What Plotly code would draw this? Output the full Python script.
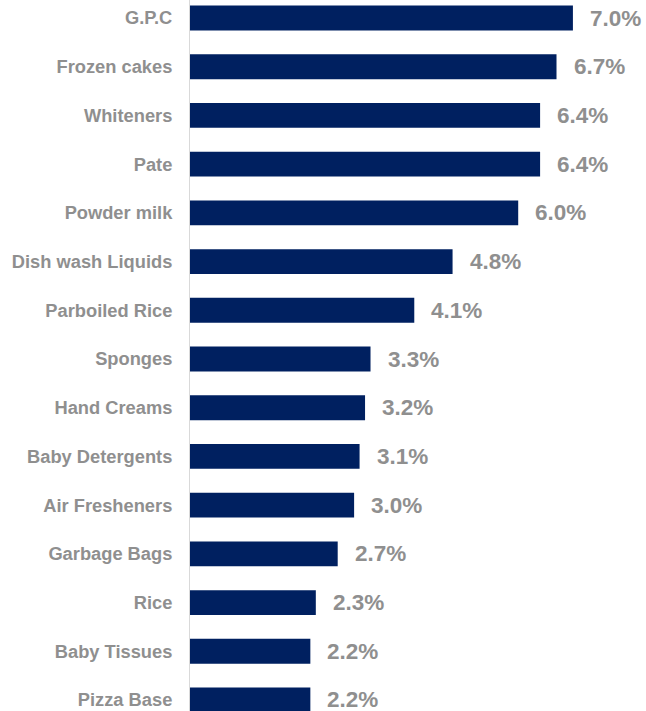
import plotly.graph_objects as go

categories = ["G.P.C", "Frozen cakes", "Whiteners", "Pate", "Powder milk",
              "Dish wash Liquids", "Parboiled Rice", "Sponges", "Hand Creams",
              "Baby Detergents", "Air Fresheners", "Garbage Bags", "Rice",
              "Baby Tissues", "Pizza Base"]
values = [7.0, 6.7, 6.4, 6.4, 6.0, 4.8, 4.1, 3.3, 3.2, 3.1, 3.0, 2.7, 2.3, 2.2, 2.2]

BAR = "#002060"
GRAY = "#8f8f8f"
FONT = "Arial, Liberation Sans, sans-serif"

fig = go.Figure(go.Bar(
    x=values, y=categories, orientation="h",
    marker=dict(color=BAR, line=dict(width=0)),
    hoverinfo="skip",
))

for c, v in zip(categories, values):
    fig.add_annotation(x=v, y=c, text=f"<b>{v:.1f}%</b>", showarrow=False,
                       xanchor="left", yanchor="middle", xshift=15,
                       font=dict(family=FONT, size=22.5, color=GRAY))

fig.update_layout(
    width=646, height=711,
    margin=dict(l=190, r=0, t=0, b=0),
    paper_bgcolor="white", plot_bgcolor="white",
    bargap=0.49,
    showlegend=False,
    xaxis=dict(range=[0, 8.336], visible=False, fixedrange=True),
    yaxis=dict(
        categoryorder="array", categoryarray=categories,
        range=[14.226, -0.37],
        showline=True, linecolor="#d9d9d9", linewidth=1,
        showgrid=False, zeroline=False,
        ticks="outside", ticklen=13, tickcolor="rgba(0,0,0,0)",
        tickfont=dict(family=FONT, size=18.3, color=GRAY, weight="bold"),
    ),
)

fig.write_html("out.html")
